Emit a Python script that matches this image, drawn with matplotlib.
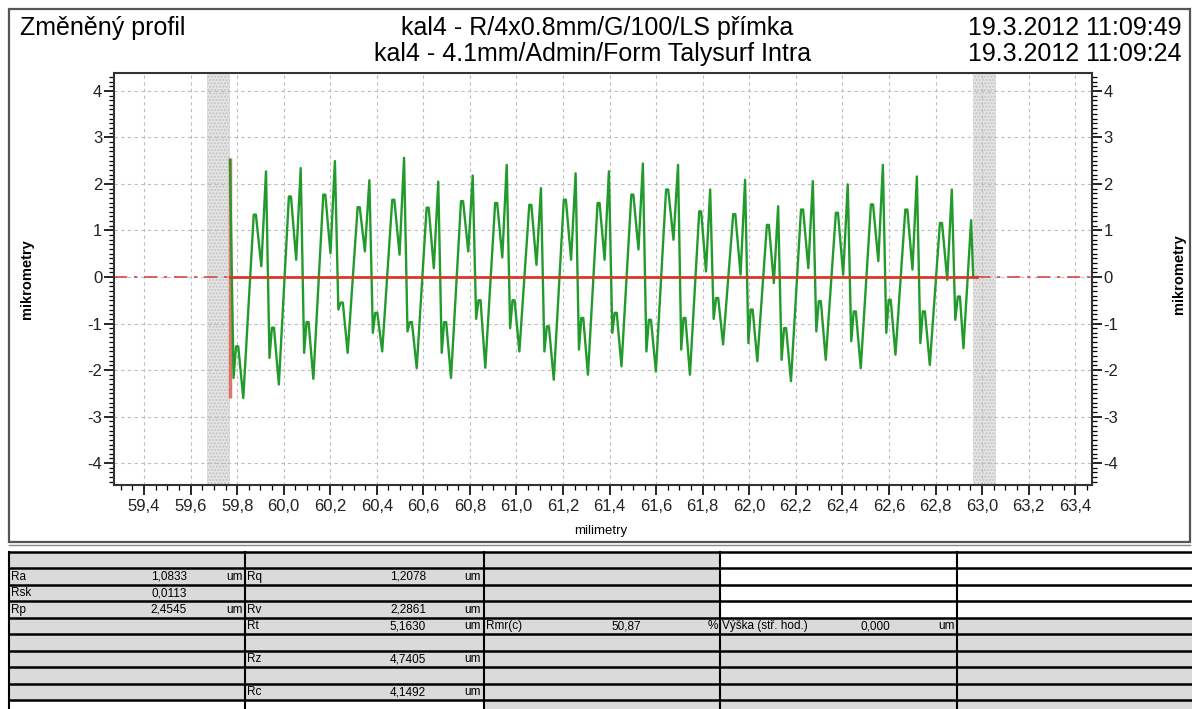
import numpy as np
import matplotlib
matplotlib.use("Agg")
import matplotlib.pyplot as plt
from matplotlib.patches import Rectangle
from matplotlib.ticker import MultipleLocator, FuncFormatter

plt.rcParams['font.family'] = ['Liberation Sans', 'DejaVu Sans']
plt.rcParams['axes.unicode_minus'] = False

# profile: one entry per period (sharp peak -> next sharp peak)
peak_x = [59.769, 59.924, 60.073, 60.220, 60.368, 60.517, 60.664, 60.812, 60.958, 61.105, 61.254,
          61.397, 61.543, 61.694, 61.832, 61.982, 62.124, 62.273, 62.423, 62.574, 62.720, 62.870]
peak_y = [2.52, 2.27, 2.34, 2.49, 2.08, 2.56, 2.05, 2.18, 2.41, 1.91, 2.23,
          2.27, 2.44, 2.41, 1.88, 2.09, 1.52, 2.06, 1.99, 2.41, 2.16, 1.88]
low1 = [-2.17, -1.74, -1.63, -0.70, -1.20, -1.17, -1.63, -0.90, -1.10, -1.60, -1.56,
        -1.20, -1.60, -1.56, -0.90, -1.42, -1.78, -1.17, -1.38, -1.20, -1.42]
shoulder_low = [-1.49, -1.09, -0.97, -0.55, -0.77, -0.97, -0.97, -0.50, -0.50, -1.06, -0.88,
                -0.77, -0.92, -0.88, -0.45, -0.70, -1.10, -0.52, -0.74, -0.49, -0.74]
deep_min = [-2.60, -2.31, -2.19, -1.63, -1.60, -1.96, -2.17, -1.95, -1.60, -2.21, -2.10,
            -1.92, -2.03, -2.10, -1.45, -1.81, -2.24, -1.78, -1.96, -1.67, -1.89]
shoulder_high = [1.34, 1.73, 1.77, 1.50, 1.66, 1.49, 1.63, 1.59, 1.55, 1.66, 1.59,
                 1.77, 1.88, 1.41, 1.35, 1.12, 1.45, 1.38, 1.56, 1.45, 1.16]
dip = [0.23, 0.37, 0.51, 0.55, 0.48, 0.19, 0.55, 0.42, 0.26, 0.37, 0.37,
       0.59, 0.80, 0.12, 0.05, -0.13, 0.19, 0.05, 0.34, 0.16, -0.06]
# where each feature sits inside a period
phase = [0.0, 0.10, 0.17, 0.23, 0.37, 0.66, 0.72, 0.87]
# last, unfinished period
tail_x = [62.885, 62.896, 62.905, 62.920, 62.953, 62.962, 62.977]
tail_y = [-0.92, -0.42, -0.42, -1.53, 1.22, 0.0, 0.0]

start_mark = (-2.6, 2.55)
bands = [(59.67, 59.77), (62.96, 63.06)]

title_left = "Změněný profil"
title_mid = ["kal4 - R/4x0.8mm/G/100/LS přímka", "kal4 - 4.1mm/Admin/Form Talysurf Intra"]
title_right = ["19.3.2012 11:09:49", "19.3.2012 11:09:24"]

# table cells: (row, col, label, value, unit)
table_cells = [
    (1, 0, "Ra", "1,0833", "um"), (1, 1, "Rq", "1,2078", "um"),
    (2, 0, "Rsk", "0,0113", ""),
    (3, 0, "Rp", "2,4545", "um"), (3, 1, "Rv", "2,2861", "um"),
    (4, 1, "Rt", "5,1630", "um"), (4, 2, "Rmr(c)", "50,87", "%"),
    (4, 3, "Výška (stř. hod.)", "0,000", "um"),
    (6, 1, "Rz", "4,7405", "um"),
    (8, 1, "Rc", "4,1492", "um"),
]
white_cells = [(r, c) for r in range(4) for c in (3, 4)] + [(9, 0), (9, 1)]

# build the profile polyline
xs, ys = [], []
for i in range(len(low1)):
    span = peak_x[i + 1] - peak_x[i]
    hts = [peak_y[i], low1[i], shoulder_low[i], shoulder_low[i],
           deep_min[i], shoulder_high[i], shoulder_high[i], dip[i]]
    for ph, h in zip(phase, hts):
        xs.append(peak_x[i] + ph * span)
        ys.append(h)
xs.append(peak_x[-1]); ys.append(peak_y[-1])
xs += tail_x; ys += tail_y
x0, x1 = xs[0], xs[-1]

W, H = 1192, 709
fig = plt.figure(figsize=(W / 100, H / 100), dpi=100)

# pixel-space background layer for frame, titles and table
bg = fig.add_axes([0, 0, 1, 1])
bg.set_xlim(0, W)
bg.set_ylim(H, 0)
bg.axis('off')
bg.add_patch(Rectangle((9, 9), 1181, 533, fill=False, edgecolor='#555555', lw=1.6))
bg.plot([9, 1190], [545, 545], color='#888888', lw=1)

bg.text(20, 28, title_left, fontsize=18, va='center', ha='left')
bg.text(597, 28, title_mid[0], fontsize=18, va='center', ha='center')
bg.text(593, 54, title_mid[1], fontsize=18, va='center', ha='center')
bg.text(1182, 28, title_right[0], fontsize=18, va='center', ha='right')
bg.text(1182, 54, title_right[1], fontsize=18, va='center', ha='right')

# table
col_x = [9, 245, 484, 720, 957, 1192]
row_top, row_h, n_rows = 551.5, 16.5, 10
for r in range(n_rows):
    for c in range(5):
        fc = 'white' if (r, c) in white_cells else '#dadada'
        bg.add_patch(Rectangle((col_x[c], row_top + r * row_h), col_x[c + 1] - col_x[c], row_h,
                               facecolor=fc, edgecolor='none'))
for r in range(n_rows + 1):
    yy = row_top + r * row_h
    bg.plot([col_x[0], W], [yy, yy], color='black', lw=1.8, solid_capstyle='butt')
for cx in col_x[:-1]:
    bg.plot([cx, cx], [row_top, H], color='black', lw=1.5)

val_right = [187, 426, 641, 890]
unit_right = [243, 481, 718, 955]
for r, c, lab, val, unit in table_cells:
    yy = row_top + r * row_h + row_h / 2 + 0.5
    bg.text(col_x[c] + 2, yy, lab, fontsize=8.5, va='center', ha='left')
    bg.text(val_right[c], yy, val, fontsize=8.5, va='center', ha='right')
    if unit:
        bg.text(unit_right[c], yy, unit, fontsize=8.5, va='center', ha='right')

# main profile chart
ax = fig.add_axes([114 / W, 1 - 485 / H, (1091.7 - 114) / W, (485 - 72.7) / H])
ax.set_xlim(59.271, 63.471)
ax.set_ylim(-4.47, 4.39)

for a, b in bands:
    ax.axvspan(a, b, facecolor='#e4e4e4', edgecolor='#c4c4c4', hatch='.....', lw=0, zorder=0.5)

ax.grid(True, which='major', color='#bdbdbd', linestyle=(0, (3, 3)), lw=0.8)
ax.set_axisbelow(True)

ax.plot([59.271, x0], [0, 0], color='#d24b4b', lw=1.2, linestyle=(0, (8, 4, 2, 4)), zorder=2)
ax.plot([x1, 63.471], [0, 0], color='#d24b4b', lw=1.2, linestyle=(0, (8, 4, 2, 4)), zorder=2)
ax.vlines(x0, start_mark[0], start_mark[1], color='#e07466', lw=2.5, zorder=2)
ax.plot(xs, ys, color='#239b2c', lw=1.7, zorder=3)
ax.plot([x0, x1], [0, 0], color='#d63a26', lw=2, zorder=4)

ax.xaxis.set_major_locator(MultipleLocator(0.2))
ax.xaxis.set_minor_locator(MultipleLocator(0.05))
ax.yaxis.set_major_locator(MultipleLocator(1))
ax.yaxis.set_minor_locator(MultipleLocator(0.1))
ax.xaxis.set_major_formatter(FuncFormatter(lambda v, p: f"{v:.1f}".replace('.', ',')))
ax.yaxis.set_major_formatter(FuncFormatter(lambda v, p: f"{v:.0f}"))

ax.tick_params(axis='both', which='major', direction='out', length=7, width=1.2,
               labelsize=12, pad=1.5, labelcolor='#222222')
ax.tick_params(axis='both', which='minor', direction='out', length=3.5, width=0.9)
ax.tick_params(axis='y', which='both', left=True, right=True, labelleft=True, labelright=True)
ax.tick_params(axis='x', which='both', bottom=True, top=False)
ax.tick_params(axis='x', which='major', pad=3)
for s in ax.spines.values():
    s.set_linewidth(1.5)
    s.set_color('#333333')

fig.text(601 / W, 1 - 531 / H, "milimetry", fontsize=9.5, ha='center', va='center')
fig.text(27 / W, 1 - 279 / H, "mikrometry", rotation=90, fontsize=10.5, fontweight='bold',
         ha='center', va='center')
fig.text(1179 / W, 1 - 274 / H, "mikrometry", rotation=90, fontsize=10.5, fontweight='bold',
         ha='center', va='center')

fig.savefig("out.png", dpi=100)
